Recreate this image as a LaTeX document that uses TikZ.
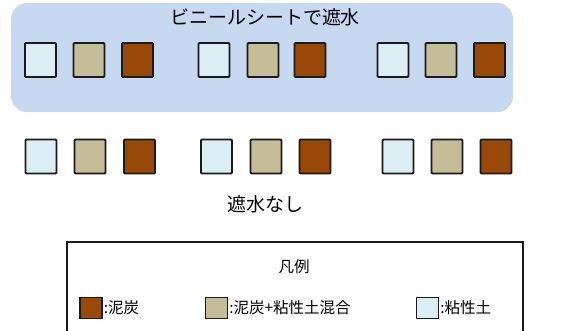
\documentclass[tikz,border=0pt]{standalone}
\usepackage{fontspec}
\setmainfont{Noto Sans CJK JP}
\definecolor{sheet}{HTML}{C6D9F1}
\definecolor{clay}{HTML}{DAEEF3}
\definecolor{mix}{HTML}{C4BD97}
\definecolor{peat}{HTML}{984807}
\definecolor{edge}{HTML}{1A1A1A}

\begin{document}
\begin{tikzpicture}[
    x=1pt, y=-1pt,
    soil/.style={draw=edge, line width=1.8pt, rounded corners=1pt, minimum width=31pt, minimum height=34pt, inner sep=0pt},
    key/.style={draw=edge, line width=1.2pt, minimum width=22pt, minimum height=21pt, inner sep=0pt},
    keytext/.style={anchor=west, font=\fontsize{15.5}{17}\selectfont, inner sep=1pt}
]
\useasboundingbox (0,0) rectangle (563,330);

% Sheet covered area
\fill[sheet, rounded corners=16pt] (11,3) rectangle (513,112);
\node[font=\fontsize{19}{22}\selectfont] (covered) at (265,17) {ビニールシートで遮水};

% Top row
\foreach \i/\x/\c in {1/40.5/clay,2/89/mix,3/137.5/peat,4/214/clay,5/263/mix,6/310/peat,7/393/clay,8/441/mix,9/489.5/peat} {
    \node[soil, fill=\c] (T\i) at (\x,60) {};
}

% Bottom row
\foreach \i/\x/\c in {1/41/clay,2/90/mix,3/139.5/peat,4/216.5/clay,5/266/mix,6/315/peat,7/398/clay,8/447/mix,9/496/peat} {
    \node[soil, fill=\c] (B\i) at (\x,156.5) {};
}
\node[font=\fontsize{19}{22}\selectfont] (open) at (265,204) {遮水なし};

% Legend
\draw[edge, line width=1.2pt] (67,242) rectangle (523,345);
\node[font=\fontsize{15.5}{17}\selectfont] (legend) at (294,267) {凡例};
\node[key, fill=peat] (K1) at (91,308) {};
\node[keytext] at (K1.east) {:泥炭};
\node[key, fill=mix] (K2) at (216.5,308) {};
\node[keytext] at (K2.east) {:泥炭+粘性土混合};
\node[key, fill=clay] (K3) at (427.5,308) {};
\node[keytext] at (K3.east) {:粘性土};
\end{tikzpicture}
\end{document}
